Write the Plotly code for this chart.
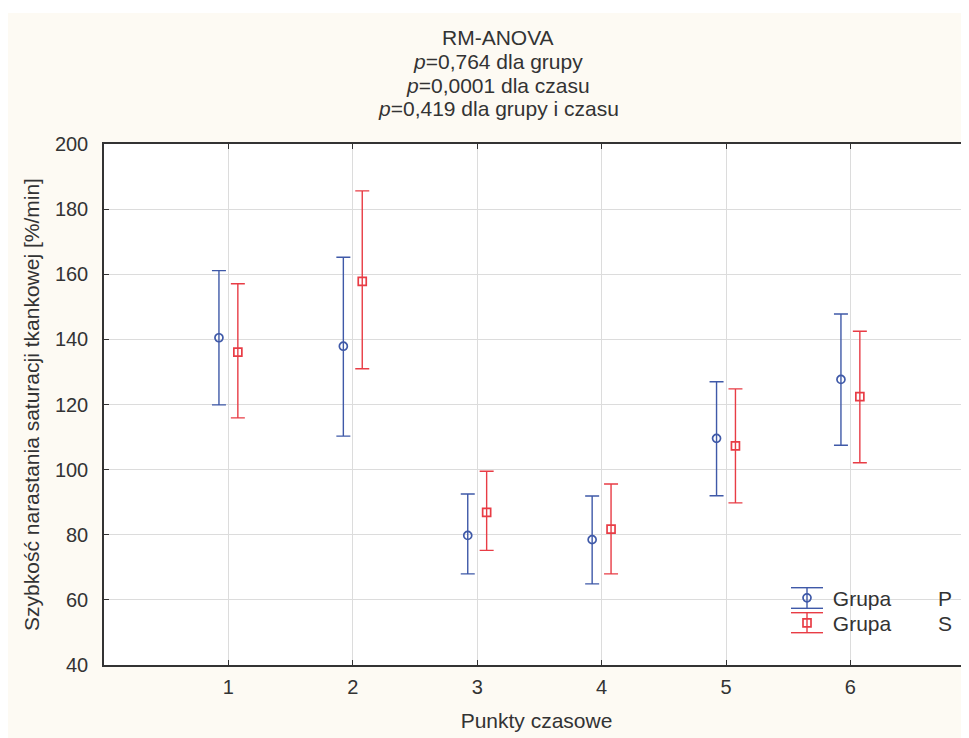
import plotly.graph_objects as go

# ---- data ----
time_points = [1, 2, 3, 4, 5, 6]
tick_labels = ["1", "2", "3", "4", "5", "6"]

p_mean = [140.5, 137.9, 79.8, 78.5, 109.6, 127.7]
p_upper = [161.1, 165.2, 92.5, 91.9, 127.0, 147.8]
p_lower = [119.9, 110.3, 68.0, 64.9, 92.0, 107.5]

s_mean = [136.1, 157.8, 86.9, 81.7, 107.3, 122.4]
s_upper = [157.1, 185.6, 99.5, 95.6, 124.8, 142.5]
s_lower = [115.9, 131.0, 75.2, 68.0, 89.8, 102.1]

y_ticks = [40, 60, 80, 100, 120, 140, 160, 180, 200]

group_names = [" Grupa        P", " Grupa        S"]
title_lines = [
    "RM-ANOVA",
    "<i>p</i>=0,764 dla grupy",
    "<i>p</i>=0,0001 dla czasu",
    "<i>p</i>=0,419 dla grupy i czasu",
]

# ---- style ----
BLUE = "#3F59A8"
RED = "#E83C45"
FONT = "Liberation Sans, Arial, sans-serif"
TXT = "#333333"
OFFSET = 0.076

# page body has an 8px margin: figure pixel = image pixel - 8
OFF = 8
W, H = 969 - OFF, 738 - OFF
L, R, T, B = 104 - OFF, 0, 144 - OFF, 738 - 665
PX0, PX1 = L, W - R
PY0, PY1 = T, H - B


def px(ximg):
    return (ximg - OFF - PX0) / (PX1 - PX0)


def py(yimg):
    return (PY1 - (yimg - OFF)) / (PY1 - PY0)


def err(mean, up, lo):
    return ([u - m for u, m in zip(up, mean)], [m - l for m, l in zip(mean, lo)])


fig = go.Figure()

pu, pl = err(p_mean, p_upper, p_lower)
su, sl = err(s_mean, s_upper, s_lower)

fig.add_trace(go.Scatter(
    x=[t - OFFSET for t in time_points], y=p_mean, mode="markers",
    name=group_names[0], legend="legend", showlegend=True,
    marker=dict(symbol="circle-open", size=8, color=BLUE, line=dict(width=1.7, color=BLUE)),
    error_y=dict(type="data", array=pu, arrayminus=pl, color=BLUE, thickness=1.4, width=7),
))
fig.add_trace(go.Scatter(
    x=[t + OFFSET for t in time_points], y=s_mean, mode="markers",
    name=group_names[1], legend="legend2", showlegend=True,
    marker=dict(symbol="square-open", size=8, color=RED, line=dict(width=1.7, color=RED)),
    error_y=dict(type="data", array=su, arrayminus=sl, color=RED, thickness=1.4, width=7),
))

shapes = [
    # white strip above the cream panel
    dict(type="rect", xref="paper", yref="paper", x0=px(-20), x1=px(1000), y0=py(13), y1=py(-20),
         fillcolor="white", line=dict(width=0), layer="below"),
]
# error-bar glyphs of the legend (decoration only)
for color, y_top, y_bot in [(BLUE, 587.7, 608.3), (RED, 612.7, 632.7)]:
    for yy in (y_top, y_bot):
        shapes.append(dict(type="line", xref="paper", yref="paper", x0=px(791), x1=px(823),
                           y0=py(yy), y1=py(yy), line=dict(color=color, width=1.4), layer="above"))
    shapes.append(dict(type="line", xref="paper", yref="paper", x0=px(807), x1=px(807),
                       y0=py(y_top), y1=py(y_bot), line=dict(color=color, width=1.4), layer="above"))

annotations = []
for line, yc in zip(title_lines, [37.5, 61.5, 85.5, 108.5]):
    annotations.append(dict(text=line, xref="paper", yref="paper", x=px(498), y=py(yc),
                            xanchor="center", yanchor="middle", showarrow=False,
                            font=dict(family=FONT, size=21, color=TXT)))

leg_common = dict(xanchor="left", yanchor="top", bgcolor="rgba(0,0,0,0)", borderwidth=0,
                  font=dict(family=FONT, size=21, color=TXT), itemsizing="trace",
                  visible=True)

fig.update_layout(
    width=W, height=H,
    showlegend=True,
    margin=dict(l=L, r=R, t=T, b=B, pad=0),
    paper_bgcolor="#FDFAF3",
    plot_bgcolor="white",
    font=dict(family=FONT, size=21, color=TXT),
    xaxis=dict(
        range=[0, (PX1 - PX0) / 124.4],
        tickvals=time_points, ticktext=tick_labels,
        showgrid=True, gridcolor="#DCDCDC", gridwidth=1.3,
        showline=True, linecolor="#333333", linewidth=1.5, mirror="ticks",
        ticks="inside", ticklen=5, tickcolor="#333333",
        zeroline=False, ticklabelstandoff=3,
        title=dict(text="Punkty czasowe", font=dict(family=FONT, size=21, color=TXT), standoff=17),
        tickfont=dict(family=FONT, size=20, color=TXT),
    ),
    yaxis=dict(
        range=[40, 200], tickvals=y_ticks,
        showgrid=True, gridcolor="#DCDCDC", gridwidth=1.3,
        showline=True, linecolor="#333333", linewidth=1.5,
        ticks="inside", ticklen=5, tickcolor="#333333",
        zeroline=False, ticklabelstandoff=10,
        title=dict(text="Szybkość narastania saturacji tkankowej [%/min]",
                   font=dict(family=FONT, size=21, color=TXT), standoff=10),
        tickfont=dict(family=FONT, size=20, color=TXT),
    ),
    legend=dict(x=px(787), y=py(577.7), **leg_common),
    legend2=dict(x=px(787), y=py(602.7), **leg_common),
    shapes=shapes,
    annotations=annotations,
)

fig.write_html("out.html")
